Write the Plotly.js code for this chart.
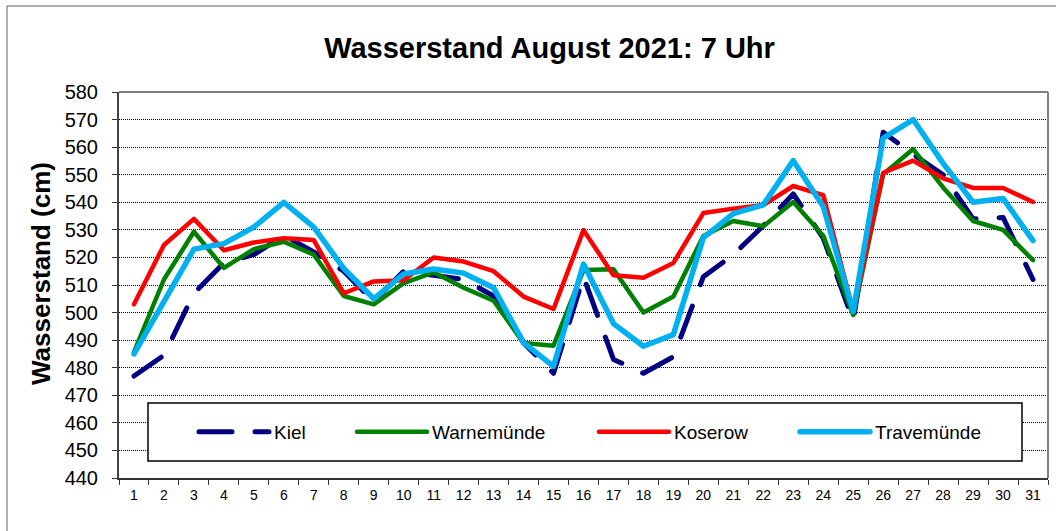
<!DOCTYPE html>
<html>
<head>
<meta charset="utf-8">
<script src="https://cdn.plot.ly/plotly-3.0.1.min.js"></script>
<style>
  html, body { margin: 0; padding: 0; background: #fff; }
  #chart { width: 1056px; height: 531px; }
  .js-line { stroke-linecap: round; stroke-linejoin: round; }
</style>
</head>
<body>
<div id="chart"></div>
<script>
// ---- data ----
const days = ['1','2','3','4','5','6','7','8','9','10','11','12','13','14','15','16','17','18','19','20','21','22','23','24','25','26','27','28','29','30','31'];
const kiel = [477, 484.5, 507, 518, 521, 528, 522, 515, 504, 515, 513.5, 512, 506, 489, 478, 513, 483, 478, 484, 513, 521, 531.5, 543, 527, 497, 565.4, 557.4, 550, 534, 534.5, 512];
const warnemuende = [485.7, 512, 529.3, 516.2, 523, 525.7, 521, 506, 503, 510.7, 514.6, 509, 504.3, 489, 488, 515.4, 515.7, 500, 505.8, 527.8, 533.2, 531.3, 540.1, 527.9, 499.1, 550.2, 559.3, 545.4, 533.2, 530, 519];
const koserow = [503, 524.5, 534, 522.6, 525.4, 527, 526.3, 507, 511.3, 511.7, 520, 518.5, 515, 505.8, 501.3, 529.9, 513.5, 512.6, 518, 536.1, 537.7, 539, 545.9, 542.6, 500.4, 550.7, 555.1, 548.7, 545.2, 545.2, 540.1];
const travemuende = [485, 504, 523, 525, 531, 540, 531, 516, 505, 514, 515.8, 514.3, 509, 489.1, 480.5, 517.6, 496, 487.8, 492, 527.2, 535.9, 539.1, 555.1, 538.5, 500.4, 563.3, 570, 554.1, 540, 541.4, 526.1];
const seriesNames = ['Kiel', 'Warnemünde', 'Koserow', 'Travemünde'];
const titleText = 'Wasserstand August 2021: 7 Uhr';
const yTitleText = 'Wasserstand (cm)';

const FONT = 'Liberation Sans, Arial, sans-serif';

const traces = [
  {x: days, y: kiel, name: seriesNames[0], legend: 'legend',
   mode: 'lines', line: {color: '#000080', width: 5, dash: '33px,23px'}},
  {x: days, y: warnemuende, name: seriesNames[1], legend: 'legend2',
   mode: 'lines', line: {color: '#008000', width: 4.5}},
  {x: days, y: koserow, name: seriesNames[2], legend: 'legend3',
   mode: 'lines', line: {color: '#FF0000', width: 4.5}},
  {x: days, y: travemuende, name: seriesNames[3], legend: 'legend4',
   mode: 'lines', line: {color: '#00B0F0', width: 5.5}}
];

// plot area: x 119..1048, y 92..478
const PW = 929, PH = 386, L = 119, T = 92;
const px = v => (v - L) / PW;
const py = v => (T + PH - v) / PH;

function leg(xPix) {
  return {
    x: px(xPix), xanchor: 'left', y: py(432), yanchor: 'middle',
    orientation: 'h', bgcolor: 'rgba(0,0,0,0)', borderwidth: 0,
    itemwidth: 70, font: {family: FONT, size: 19, color: '#000'}
  };
}

const layout = {
  width: 1056, height: 531,
  margin: {l: 119, r: 8, t: 92, b: 53},
  paper_bgcolor: '#fff', plot_bgcolor: '#fff',
  showlegend: true,
  title: {text: '<b>' + titleText + '</b>', font: {family: FONT, size: 29, color: '#000'},
          x: 549.5 / 1056, xanchor: 'center', xref: 'container',
          y: 1 - 48 / 531, yanchor: 'middle', yref: 'container'},
  xaxis: {
    type: 'category', range: [-0.5, 30.5], tickson: 'boundaries', ticks: 'outside', ticklen: 5,
    tickcolor: '#333', tickwidth: 1,
    showline: true, linecolor: '#333', linewidth: 2, mirror: false,
    showgrid: false, zeroline: false,
    tickfont: {family: FONT, size: 14, color: '#000'},
    ticklabelstandoff: 3
  },
  yaxis: {
    range: [440, 580], dtick: 10, tick0: 440, ticks: 'outside', ticklen: 5,
    tickcolor: '#333', tickwidth: 1,
    showline: true, linecolor: '#444', linewidth: 2,
    showgrid: true, gridcolor: '#000', gridwidth: 1, griddash: '1px,1px',
    zeroline: false,
    tickfont: {family: FONT, size: 20, color: '#000'},
    ticklabelstandoff: 10
  },
  legend: leg(194),
  legend2: leg(352),
  legend3: leg(594),
  legend4: leg(795),
  shapes: [
    // plot area top & right border
    {type: 'line', xref: 'paper', yref: 'paper', x0: 0, x1: 1, y0: 1, y1: 1,
     line: {color: '#808080', width: 2}},
    {type: 'line', xref: 'paper', yref: 'paper', x0: 1, x1: 1, y0: 0, y1: 1,
     line: {color: '#808080', width: 2}},
    // legend box
    {type: 'rect', xref: 'paper', yref: 'paper', layer: 'above',
     x0: px(148), x1: px(1022), y0: py(461), y1: py(403),
     fillcolor: '#fff', line: {color: '#000', width: 1.5}},
    // outer chart frame
    {type: 'rect', xref: 'paper', yref: 'paper',
     x0: px(7), x1: px(1070), y0: py(545), y1: py(6),
     line: {color: '#606060', width: 1}}
  ],
  annotations: [
    {text: '<b>' + yTitleText + '</b>', textangle: -90, showarrow: false,
     xref: 'paper', yref: 'paper', x: px(41), y: py(274),
     xanchor: 'center', yanchor: 'middle',
     font: {family: FONT, size: 26, color: '#000'}}
  ]
};

Plotly.newPlot('chart', traces, layout, {displayModeBar: false, staticPlot: true});
</script>
</body>
</html>
